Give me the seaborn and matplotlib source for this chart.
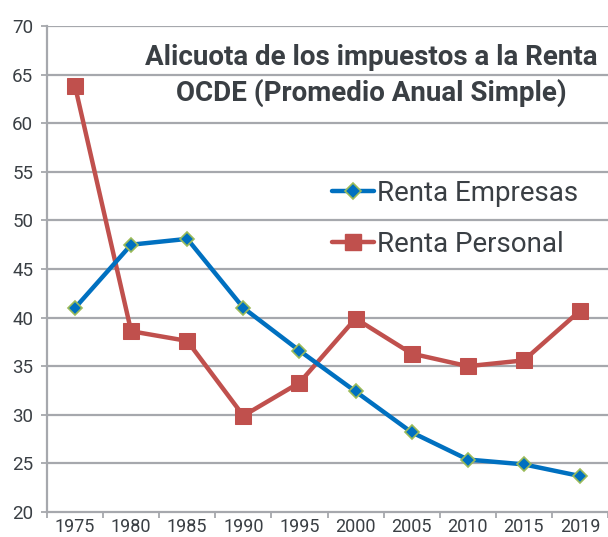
import matplotlib
matplotlib.use("Agg")
import matplotlib.pyplot as plt
import seaborn as sns
import pandas as pd
from matplotlib.lines import Line2D
from matplotlib.ticker import FixedLocator

years = ["1975", "1980", "1985", "1990", "1995", "2000", "2005", "2010", "2015", "2019"]
renta_empresas = [41.0, 47.5, 48.1, 41.0, 36.6, 32.4, 28.2, 25.4, 24.9, 23.7]
renta_personal = [63.8, 38.6, 37.6, 29.9, 33.3, 39.9, 36.3, 35.0, 35.6, 40.7]
series_names = ["Renta Empresas", "Renta Personal"]
title_lines = ["Alicuota de los impuestos a la Renta", "OCDE (Promedio Anual Simple)"]

sns.set_theme(style="white")
plt.rcParams["font.family"] = ["Roboto", "DejaVu Sans"]

df = pd.DataFrame({
    "pos": list(range(len(years))) * 2,
    "value": renta_empresas + renta_personal,
    "serie": [series_names[0]] * len(years) + [series_names[1]] * len(years),
})

fig = plt.figure(figsize=(6.08, 5.37), dpi=100)
ax = fig.add_axes([47 / 608, 1 - 512 / 537, 561 / 608, 486 / 537])

blue = "#0070C0"
red = "#C0504D"
green = "#9BBB59"
grid_c = "#A6A8AD"
text_c = "#3A3F44"

ax.set_ylim(20, 70)
ax.set_xlim(-0.5, len(years) - 0.5)
ax.set_yticks(range(20, 71, 5))
for yv in range(25, 71, 5):
    ax.axhline(yv, color=grid_c, lw=1.6, zorder=0)

sns.lineplot(data=df[df.serie == series_names[1]], x="pos", y="value", ax=ax,
             color=red, lw=3.2, marker="s", markersize=11, markeredgecolor=red,
             markerfacecolor=red, legend=False, zorder=3)
sns.lineplot(data=df[df.serie == series_names[0]], x="pos", y="value", ax=ax,
             color=blue, lw=3.2, marker="D", markersize=7.5, markeredgecolor=green,
             markeredgewidth=1.2, markerfacecolor=blue, legend=False, zorder=4)

ax.set_xticks(range(len(years)))
ax.set_xticklabels(years)
ax.xaxis.set_minor_locator(FixedLocator([i - 0.5 for i in range(len(years) + 1)]))
ax.tick_params(axis="x", which="major", length=0, pad=4, labelsize=13, labelcolor=text_c)
ax.tick_params(axis="x", which="minor", length=4.5, width=1.3, color=grid_c, direction="out", bottom=True)
ax.tick_params(axis="y", which="major", length=4.5, width=1.3, color=grid_c, direction="out",
               left=True, pad=5.5, labelsize=13.5, labelcolor=text_c)
ax.set_xlabel("")
ax.set_ylabel("")

for s in ["top", "right"]:
    ax.spines[s].set_visible(False)
for s in ["left", "bottom"]:
    ax.spines[s].set_color(grid_c)
    ax.spines[s].set_linewidth(1.6)

handles = [
    Line2D([], [], color=blue, lw=3.2, marker="D", markersize=8, markerfacecolor=blue,
           markeredgecolor=green, markeredgewidth=1.2),
    Line2D([], [], color=red, lw=3.2, marker="s", markersize=11, markerfacecolor=red,
           markeredgecolor=red),
]
leg = ax.legend(handles, series_names, loc="upper left",
                bbox_to_anchor=((332 - 47) / 561, (512 - 180) / 486),
                frameon=False, fontsize=20, handlelength=1.5, handletextpad=0.12,
                labelspacing=0.85, borderaxespad=0, borderpad=0)
for t in leg.get_texts():
    t.set_color(text_c)

fig.text(371 / 608, 1 - 57 / 537, title_lines[0], ha="center", va="center",
         fontsize=20, fontweight="bold", color=text_c)
fig.text(371 / 608, 1 - 93 / 537, title_lines[1], ha="center", va="center",
         fontsize=20, fontweight="bold", color=text_c)

fig.savefig("out.png", dpi=100)
